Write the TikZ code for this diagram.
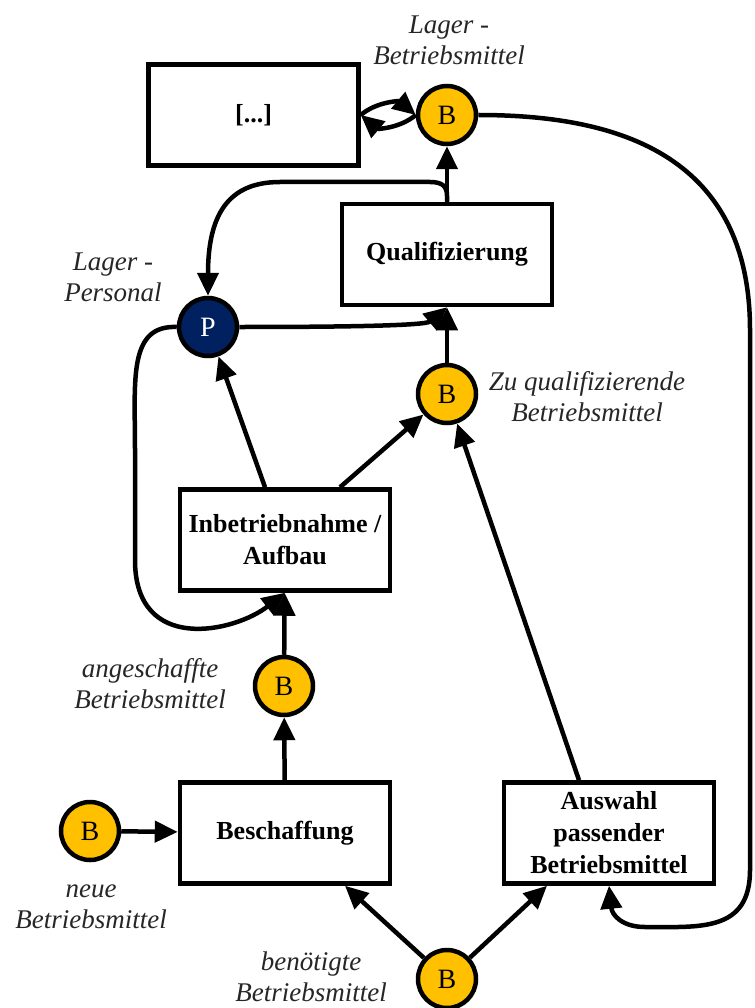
\documentclass[tikz,border=0pt]{standalone}
\usepackage{fontspec}
\setmainfont{Liberation Serif}
\usetikzlibrary{arrows.meta,shadows}
\definecolor{ambar}{HTML}{FFC000}
\definecolor{navy}{HTML}{002060}
\begin{document}
\begin{tikzpicture}[x=1pt,y=-1pt,
  box/.style={draw, line width=4.5pt, fill=white, minimum width=210pt,
    minimum height=101pt, align=center, inner sep=2pt,
    font=\fontsize{26pt}{32pt}\selectfont\bfseries,
    drop shadow={shadow xshift=2pt, shadow yshift=-2pt, opacity=0.18, fill=gray}},
  res/.style={circle, draw, line width=4.5pt, fill=ambar, minimum size=58pt,
    inner sep=0pt, font=\fontsize{28pt}{32pt}\selectfont},
  pers/.style={res, fill=navy, text=white},
  lbl/.style={align=center, font=\fontsize{27pt}{31pt}\selectfont\itshape, text=black!85},
  flow/.style={line width=4.5pt, -{Triangle[length=23pt,width=21pt]}},
]
\useasboundingbox (0,0) rectangle (754,1008);

% process boxes
\node[box] (Dots)  at (253.5,115) {[...]};
\node[box] (Q)     at (447,254.5) {Qualifizierung};
\node[box] (Inb)   at (285,540)   {Inbetriebnahme /\\Aufbau};
\node[box] (Besch) at (285,833)   {Beschaffung};
\node[box] (Aus)   at (609,833)   {Auswahl\\passender\\Betriebsmittel};

% resources
\node[res]  (BL) at (447,115) {B};
\node[pers] (P)  at (208,327) {P};
\node[res]  (BZ) at (447,394) {B};
\node[res]  (BA) at (284,686) {B};
\node[res]  (BN) at (90,831)  {B};
\node[res]  (BB) at (447,979) {B};

% labels
\node[lbl] (lBL) at (449,40)  {Lager -\\Betriebsmittel};
\node[lbl] (lP)  at (113,277) {Lager -\\Personal};
\node[lbl] (lBZ) at (587,397) {Zu qualifizierende\\Betriebsmittel};
\node[lbl] (lBA) at (150,684) {angeschaffte\\Betriebsmittel};
\node[lbl] (lBN) at (91,907)  {neue\\Betriebsmittel};
\node[lbl] (lBB) at (311,977) {benötigte\\Betriebsmittel};

% flows
\draw[flow] (BB) -- ([xshift=60pt]Besch.south);
\draw[flow] (BB) -- ([xshift=-62pt]Aus.south);
\draw[flow] (BN) -- (Besch);
\draw[flow] (Besch) -- (BA);
\draw[flow] (BA) -- (Inb);
\draw[flow] ([xshift=-20pt]Inb.north) -- (P);
\draw[flow] ([xshift=55pt]Inb.north) -- (BZ);
\draw[flow] ([xshift=-30pt]Aus.north) -- (BZ);
\draw[flow] (BZ) -- (Q);
\draw[flow] (Q) -- (BL);
\draw[flow] (P.east) .. controls (330,327) and (425,326) .. (Q.south);
\draw[flow] (Q.north) -- (447,196) .. controls (447,186) and (442,182) .. (430,182)
  -- (280,182) .. controls (228,182) and (208,215) .. (P.north);
\draw[flow] (P.west) .. controls (128,325) and (135,380) .. (135,450)
  -- (135,560) .. controls (135,655) and (235,632) .. (Inb.south);
\draw[flow] (Dots.east) to[bend left=40] (BL.west);
\draw[flow] (BL.west) to[bend left=40] (Dots.east);
\draw[flow] (BL.east) .. controls (610,115) and (750,150) .. (750,330)
  -- (750,870) .. controls (750,932) and (700,927) .. (645,927)
  .. controls (622,927) and (612,915) .. (Aus.south);
\end{tikzpicture}
\end{document}
